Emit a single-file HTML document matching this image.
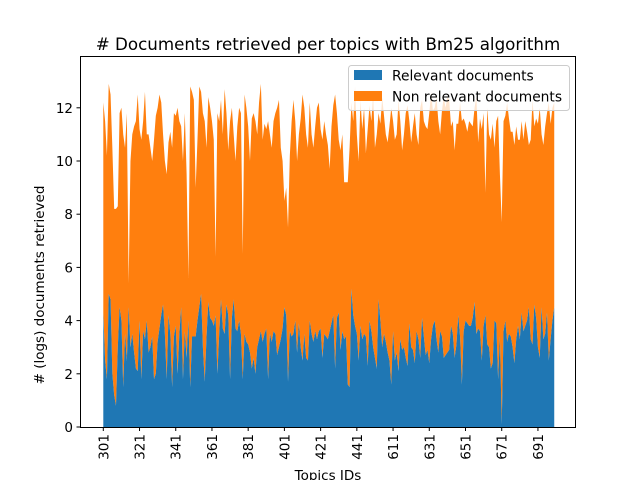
<!DOCTYPE html>
<html><head><meta charset="utf-8"><style>
body{margin:0;background:#fff;}
svg{display:block;font-family:"DejaVu Sans","Liberation Sans",sans-serif;}
</style></head><body>
<svg id="chart" width="640" height="480">
<text x="328" y="50" text-anchor="middle" font-size="16.7" fill="#000"># Documents retrieved per topics with Bm25 algorithm</text>
<text transform="translate(44,285) rotate(-90)" text-anchor="middle" font-size="13.5" fill="#000"># (logs) documents retrieved</text>
<text x="328" y="480" text-anchor="middle" font-size="13.5" fill="#000">Topics IDs</text>
<g id="plot"></g>
<g id="axes"></g>
<g>
<rect x="348.5" y="65.5" width="221" height="45" rx="3" fill="#fff" fill-opacity="0.8" stroke="#ccc"/>
<rect x="354" y="70" width="28" height="10" fill="#1f77b4"/>
<text x="392" y="80.5" font-size="13.8" fill="#000">Relevant documents</text>
<rect x="354" y="91" width="28" height="10" fill="#ff7f0e"/>
<text x="392" y="101.5" font-size="13.8" fill="#000">Non relevant documents</text>
</g>
</svg>
<script>
const relevant = [4.3,2.5,1.8,5.0,4.8,2.0,1.2,0.8,3.0,4.5,
4.0,1.5,3.5,2.5,4.5,3.0,3.5,2.8,2.2,2.1,
4.0,1.8,3.6,3.3,4.0,2.8,3.0,3.4,1.8,2.0,
3.2,3.7,4.2,4.6,3.5,1.8,4.2,3.5,1.5,3.4,
3.8,2.0,3.5,4.5,1.8,3.6,2.6,4.0,1.5,3.4,
3.4,3.4,4.0,4.5,5.0,3.0,1.7,3.4,4.7,4.1,
4.0,3.8,4.2,2.0,3.5,4.8,3.7,3.5,4.6,4.2,
1.8,4.1,4.8,3.7,3.6,4.0,3.5,1.8,3.5,3.2,
3.1,2.8,2.2,2.6,2.0,3.0,3.3,3.6,3.2,3.5,
3.7,1.8,3.5,3.2,3.6,3.5,2.7,3.0,3.3,3.7,
4.5,4.2,1.7,3.6,3.4,3.5,4.0,2.8,3.9,3.0,
2.5,3.5,2.6,2.5,4.0,3.5,3.2,3.6,3.3,3.6,
3.7,2.6,3.5,3.4,3.3,3.6,3.9,4.2,2.2,4.1,
4.3,2.9,3.6,3.3,3.4,1.6,1.5,5.2,4.2,3.8,
3.5,2.5,3.8,3.3,3.5,3.4,2.3,4.0,3.6,3.0,
2.6,2.2,4.8,4.0,3.0,3.5,3.2,2.8,2.5,1.6,
3.6,2.5,2.8,2.1,3.3,2.9,3.0,2.6,2.3,3.9,
3.0,2.9,2.4,3.6,3.3,2.6,4.1,3.4,2.7,2.9,
2.4,3.3,3.8,4.0,3.3,2.8,3.6,3.4,2.6,2.7,
2.8,2.9,3.8,3.5,2.6,3.1,4.2,3.4,1.6,3.6,
4.0,3.9,3.8,3.8,4.1,4.7,3.5,3.7,3.6,2.5,
3.8,4.2,3.1,3.0,2.2,2.4,4.0,3.9,1.8,3.4,
0.1,3.6,4.0,3.2,3.5,3.4,3.0,2.4,3.3,3.8,
3.3,4.3,3.6,3.8,4.0,4.5,3.3,3.1,4.6,4.1,
3.0,2.6,4.5,3.3,3.5,4.3,2.5,3.3,4.0,4.5];
const total = [12.2,11.5,10.2,12.9,12.5,10.5,8.2,8.2,8.3,11.8,
12.0,11.0,10.5,11.8,5.4,10.0,11.0,11.3,11.5,12.5,
11.2,10.8,11.5,12.6,11.0,11.0,10.5,10.0,10.8,11.7,
12.0,12.5,12.2,11.0,10.0,9.5,10.7,11.1,10.5,11.8,
11.7,12.0,11.5,11.3,10.0,11.8,9.5,5.6,12.8,12.6,
12.3,9.0,10.8,12.8,12.6,11.8,11.5,10.5,12.4,12.0,
11.5,10.8,6.4,11.8,11.5,12.3,11.0,12.7,11.8,10.4,
11.5,12.0,11.0,10.0,11.3,12.0,11.8,6.5,12.5,12.0,
11.3,10.0,11.6,11.8,11.5,11.0,12.2,12.9,10.8,11.4,
11.2,11.5,11.0,10.5,11.5,11.8,12.0,12.3,10.5,10.0,
8.5,9.0,7.5,10.2,11.5,12.3,11.5,10.0,11.0,11.6,
12.5,12.0,11.0,10.5,12.2,11.0,10.5,11.3,12.0,12.2,
11.2,10.8,11.5,11.0,10.6,9.7,11.3,12.1,12.5,11.8,
10.8,10.4,11.0,9.2,9.2,9.2,10.5,12.2,11.5,12.8,
11.0,10.0,12.3,11.2,12.0,10.3,11.2,12.1,11.5,12.5,
10.5,11.0,11.8,11.4,12.4,11.7,11.0,10.7,11.3,12.0,
11.5,10.8,11.0,12.3,11.5,10.4,11.0,11.8,12.1,11.5,
10.7,11.3,11.8,11.0,10.6,12.0,12.3,11.5,11.3,11.2,
11.8,12.6,11.9,12.0,12.4,11.5,11.0,11.9,12.4,12.0,
12.4,12.3,11.3,11.5,10.4,11.4,11.4,12.2,11.5,11.6,
11.4,11.1,11.5,11.4,11.3,12.0,12.4,10.7,11.6,11.2,
11.8,8.8,12.0,11.0,10.8,11.4,10.5,11.5,11.7,9.5,
7.7,11.5,11.7,12.2,11.6,11.1,11.1,10.6,11.3,10.8,
10.8,11.5,10.8,11.5,11.1,10.6,10.8,12.3,11.3,11.6,
11.4,12.0,11.0,10.6,11.3,11.8,12.2,11.4,12.0,12.2];
const xTickLabels = ["301","321","341","361","381","401","421","441","611","631","651","671","691"];
const yTickValues = [0,2,4,6,8,10,12];

const NS = "http://www.w3.org/2000/svg";
const L = 80, R = 575, T = 56, B = 427;
const x0 = 103.3, step = 1.811;
function xs(i){ return x0 + i * step; }
function ys(v){ return B - v * 26.6; }
function mk(tag, attrs, parent){ const e = document.createElementNS(NS, tag); for (const k in attrs) e.setAttribute(k, attrs[k]); parent.appendChild(e); return e; }

const plot = document.getElementById('plot');
let dRel = "M" + xs(0) + "," + ys(0);
relevant.forEach((v,i)=>{ dRel += " L" + xs(i).toFixed(2) + "," + ys(v).toFixed(2); });
dRel += " L" + xs(relevant.length-1) + "," + ys(0) + " Z";
let dTop = "";
total.forEach((v,i)=>{ dTop += (i ? " L" : "M") + xs(i).toFixed(2) + "," + ys(v).toFixed(2); });
for (let i = relevant.length-1; i >= 0; i--) dTop += " L" + xs(i).toFixed(2) + "," + ys(relevant[i]).toFixed(2);
dTop += " Z";
const areaNon = mk('path', {d: dTop, fill: '#ff7f0e'}, plot);


const areaRel = mk('path', {d: dRel, fill: '#1f77b4'}, plot);



const axes = document.getElementById('axes');
const frame = mk('rect', {x: L+0.5, y: T+0.5, width: R-L, height: B-T, fill: 'none', stroke: '#000', 'stroke-width': 1}, axes);


yTickValues.forEach(v=>{
  const y = ys(v);
  const tk = mk('line', {x1: L-3.5, x2: L+0.5, y1: y, y2: y, stroke: '#000'}, axes);
  
  
  const t = mk('text', {x: L-7, y: y+5, 'text-anchor': 'end', 'font-size': 13.5}, axes);
  t.textContent = v;
  
  
});
xTickLabels.forEach((lab,k)=>{
  const x = xs(k*20);
  const tk = mk('line', {x1: x, x2: x, y1: B+0.5, y2: B+4, stroke: '#000'}, axes);
  
  
  const t = mk('text', {transform: 'translate(' + (x+5) + ',' + (B+7) + ') rotate(-90)', 'text-anchor': 'end', 'font-size': 13.5}, axes);
  t.textContent = lab;
  
  
});
</script>
</body></html>
